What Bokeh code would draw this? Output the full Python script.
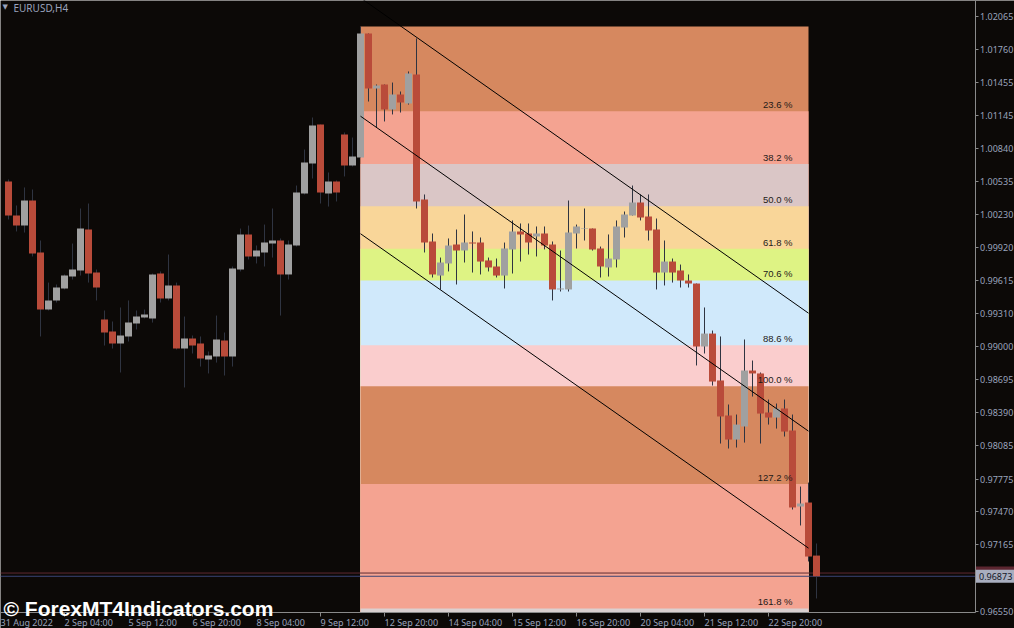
from bokeh.plotting import figure
from bokeh.models import Range1d, FixedTicker, PrintfTickFormatter, Label
from bokeh.embed import file_html
from bokeh.resources import INLINE
from bokeh.core.properties import value

# ---------------- data (EURUSD, H4) ----------------
opens = [1.00534, 1.00219, 1.00126, 1.00358, 0.99876, 0.99347, 0.99431, 0.99542, 0.99653, 0.99709,
         1.00089, 0.99690, 0.99254, 0.99143, 0.99032, 0.99097, 0.99217, 0.99273, 0.99264, 0.99681,
         0.99449, 0.99570, 0.98985, 0.99078, 0.99032, 0.98883, 0.98911, 0.99060, 0.98911, 0.99718,
         1.00043, 0.99839, 0.99876, 0.99959, 0.99987, 0.99672, 0.99941, 1.00423, 1.00701, 1.01063,
         1.00423, 1.00534, 1.00970, 1.00683, 1.00757, 1.01907, 1.01397, 1.01434, 1.01202, 1.01341,
         1.01258, 1.01527, 1.00367, 0.99978, 0.99662, 0.99774, 0.99950, 0.99894, 0.99968, 0.99968,
         0.99802, 0.99746, 0.99662, 0.99904, 1.00071, 1.00052, 1.00024, 1.00052, 0.99950, 0.99533,
         0.99533, 1.00052, 1.00094, 1.00098, 0.99913, 0.99737, 0.99811, 1.00108, 1.00219, 1.00339,
         1.00210, 1.00089, 0.99690, 0.99792, 0.99709, 0.99616, 0.99588, 0.99004, 0.99124, 0.98689,
         0.98364, 0.98141, 0.98262, 0.98781, 0.98754, 0.98392, 0.98345, 0.98429, 0.98225, 0.97520,
         0.97557, 0.97065]
highs = [1.00553, 1.00312, 1.00479, 1.00460, 0.99987, 0.99597, 0.99579, 0.99672, 0.99959, 1.00284,
         1.00330, 0.99718, 0.99338, 0.99236, 0.99366, 0.99431, 0.99338, 0.99347, 0.99681, 0.99700,
         0.99857, 0.99597, 0.99282, 0.99106, 0.99097, 0.98958, 0.99291, 0.99134, 0.99746, 1.00098,
         1.00126, 0.99941, 1.00135, 1.00284, 1.00006, 0.99987, 1.00497, 1.00831, 1.01128, 1.01063,
         1.00618, 1.00544, 1.00989, 1.00942, 1.01972, 1.01907, 1.01434, 1.01434, 1.01452, 1.01369,
         1.01555, 1.01861, 1.00414, 1.00052, 0.99829, 1.00006, 1.00089, 1.00228, 1.00071, 1.00015,
         0.99829, 0.99820, 0.99968, 1.00173, 1.00145, 1.00145, 1.00117, 1.00117, 0.99978, 0.99894,
         1.00358, 1.00135, 1.00284, 1.00098, 0.99931, 1.00043, 1.00173, 1.00256, 1.00497, 1.00414,
         1.00414, 1.00191, 0.99987, 0.99820, 0.99764, 0.99672, 0.99588, 0.99366, 0.99152, 0.99097,
         0.98466, 0.98373, 0.99069, 0.98874, 0.98763, 0.98512, 0.98475, 0.98512, 0.98373, 0.97705,
         0.97742, 0.97177]
lows = [1.00182, 1.00071, 1.00061, 0.99839, 0.99097, 0.99338, 0.99412, 0.99533, 0.99625, 0.99662,
        0.99597, 0.99431, 0.99013, 0.98985, 0.98763, 0.99050, 0.99162, 0.99264, 0.99226, 0.99412,
        0.99431, 0.98976, 0.98624, 0.98939, 0.98818, 0.98754, 0.98855, 0.98735, 0.98818, 0.99700,
        0.99811, 0.99774, 0.99746, 0.99829, 0.99291, 0.99625, 0.99931, 1.00414, 1.00562, 1.00330,
        1.00302, 1.00349, 1.00581, 1.00673, 1.00757, 1.01276, 1.01035, 1.01091, 1.01156, 1.01174,
        1.01248, 1.00284, 0.99876, 0.99644, 0.99533, 0.99700, 0.99579, 0.99783, 0.99690, 0.99672,
        0.99700, 0.99644, 0.99542, 0.99681, 0.99792, 0.99857, 0.99839, 0.99904, 0.99431, 0.99514,
        0.99514, 0.99913, 0.99987, 0.99894, 0.99644, 0.99653, 0.99737, 1.00015, 1.00219, 1.00173,
        0.99987, 0.99533, 0.99570, 0.99597, 0.99551, 0.99551, 0.98828, 0.98939, 0.98642, 0.98104,
        0.98058, 0.98067, 0.98113, 0.98540, 0.98104, 0.98280, 0.98243, 0.98169, 0.97492, 0.97344,
        0.97010, 0.96667]
closes = [1.00219, 1.00126, 1.00358, 0.99866, 0.99347, 0.99431, 0.99551, 0.99662, 0.99718, 1.00098,
          0.99681, 0.99551, 0.99134, 0.99032, 0.99106, 0.99226, 0.99282, 0.99301, 0.99672, 0.99449,
          0.99570, 0.98985, 0.99078, 0.99013, 0.98893, 0.98920, 0.99069, 0.98911, 0.99727, 1.00043,
          0.99839, 0.99894, 0.99968, 0.99987, 0.99672, 0.99950, 1.00432, 1.00710, 1.01054, 1.00432,
          1.00534, 1.00432, 1.00683, 1.00766, 1.01907, 1.01397, 1.01425, 1.01202, 1.01341, 1.01267,
          1.01536, 1.00349, 0.99968, 0.99672, 0.99783, 0.99941, 0.99894, 0.99968, 0.99959, 0.99792,
          0.99737, 0.99662, 0.99913, 1.00071, 1.00043, 0.99968, 1.00052, 0.99941, 0.99533, 0.99542,
          1.00061, 1.00117, 1.00098, 0.99904, 0.99746, 0.99820, 1.00117, 1.00228, 1.00339, 1.00200,
          1.00080, 0.99690, 0.99792, 0.99690, 0.99616, 0.99588, 0.99004, 0.99124, 0.98679, 0.98355,
          0.98141, 0.98280, 0.98781, 0.98754, 0.98382, 0.98345, 0.98429, 0.98215, 0.97511, 0.97548,
          0.97056, 0.96873]

time_tick_bars = [-1, 7, 15, 23, 31, 39, 47, 55, 63, 71, 79, 87, 95]
time_tick_labels = ["31 Aug 2022", "2 Sep 04:00", "5 Sep 12:00", "6 Sep 20:00", "8 Sep 04:00",
                    "9 Sep 12:00", "12 Sep 20:00", "14 Sep 04:00", "15 Sep 12:00",
                    "16 Sep 20:00", "20 Sep 04:00", "21 Sep 12:00", "22 Sep 20:00"]

price_ticks = [1.02065, 1.01760, 1.01455, 1.01145, 1.00840, 1.00535, 1.00230, 0.99920,
               0.99615, 0.99310, 0.99000, 0.98695, 0.98390, 0.98085, 0.97775, 0.97470,
               0.97165, 0.96550]

fib_start_bar = 44
fib_end_bar = 100
fib_high = 1.01972
fib_low = 0.98636
fib_levels = [0.0, 23.6, 38.2, 50.0, 61.8, 70.6, 88.6, 100.0, 127.2, 161.8, 200.0]
fib_colors = ["#D6885F", "#F4A391", "#DAC6C6", "#F9D699", "#DEF384",
              "#D0E9FB", "#FACDCD", "#D6885F", "#F4A391", "#DAD0D0"]
fib_labels = ["23.6 %", "38.2 %", "50.0 %", "61.8 %", "70.6 %", "88.6 %",
              "100.0 %", "127.2 %", "161.8 %"]

channel_start = [1.02238, 1.01140, 1.00050]   # upper, middle, lower at fib_start_bar
channel_end = [0.99313, 0.98219, 0.97134]     # at fib_end_bar

bid_price = 0.96873
ask_price = 0.96903
symbol = "EURUSD,H4"
watermark = "\u00a9 ForexMT4Indicators.com"

# ---------------- layout / styling ----------------
BG = "#0C0907"
RED = "#B94B3A"
GRAY = "#A0A0A0"
WICK = "#2F3441"
AXIS_TEXT = "#9AA3BC"
AXIS_LINE = "#8A8A8A"
FONT = "Noto Sans"
W, H = 1014, 628
CHART_H = 612                 # height of the price pane in pixels
x_start, x_end = -1.0, 125.75  # 8 px per bar over the whole canvas
chart_right = 120.8125        # bar coordinate of the price scale
y_end = 1.02213
chart_bottom = 0.96537        # price at the time scale
y_start = y_end - (y_end - chart_bottom) * H / CHART_H

p = figure(width=W, height=H, output_backend="svg", toolbar_location=None,
           x_range=Range1d(x_start, x_end), y_range=Range1d(y_start, y_end),
           y_axis_location="right", x_axis_location="below",
           min_border_left=0, min_border_top=0, min_border_right=0, min_border_bottom=0)
p.background_fill_color = BG
p.border_fill_color = BG
p.outline_line_color = None
p.xgrid.visible = False
p.ygrid.visible = False

# Fibonacci bands (each drawn down to the pane bottom so that no seams show)
span = fib_high - fib_low
lvl_price = [max(fib_high - lv / 100.0 * span, chart_bottom) for lv in fib_levels]
nb = len(fib_colors)
p.quad(left=[fib_start_bar] * nb, right=[fib_end_bar] * nb,
       top=lvl_price[:-1], bottom=[lvl_price[-1]] * nb, fill_color=fib_colors, line_color=None)

# bid / ask lines
p.segment(x0=[x_start, x_start], x1=[chart_right, chart_right], y0=[ask_price, bid_price],
          y1=[ask_price, bid_price], line_color=["#5E2A32", "#3A4476"], line_width=1)

# candles
bars = list(range(len(opens)))
cols = [GRAY if c > o else RED for o, c in zip(opens, closes)]
p.segment(x0=bars, y0=highs, x1=bars, y1=lows, line_color=WICK, line_width=1)
p.vbar(x=bars, width=0.875, top=[max(o, c) for o, c in zip(opens, closes)],
       bottom=[min(o, c) for o, c in zip(opens, closes)], fill_color=cols, line_color=None)

# regression channel
p.segment(x0=[fib_start_bar] * 3, y0=channel_start, x1=[fib_end_bar] * 3, y1=channel_end,
          line_color="#000000", line_width=1)

# fib level labels
p.text(x=[fib_end_bar] * len(fib_labels), y=lvl_price[1:1 + len(fib_labels)], text=fib_labels,
       text_align="right", text_baseline="bottom", x_offset=-16, y_offset=-1,
       text_font=value("Liberation Sans"), text_font_size="9.5px", text_color="#1E1A18")

# price axis, pinned at the right edge of the pane
ya = p.yaxis[0]
ya.fixed_location = chart_right
ya.bounds = (chart_bottom, y_end)
ya.ticker = FixedTicker(ticks=price_ticks)
ya.formatter = PrintfTickFormatter(format="%.5f")
ya.major_tick_out = 3
ya.major_label_standoff = 2

# time axis, pinned at the bottom of the pane; labels start at their ticks
xa = p.xaxis[0]
xa.fixed_location = chart_bottom
xa.bounds = (x_start, chart_right)
xa.ticker = FixedTicker(ticks=time_tick_bars)
xa.major_label_overrides = {b: l for b, l in zip(time_tick_bars, time_tick_labels)}
xa.major_label_orientation = -1e-6
xa.major_tick_out = 4
xa.major_label_standoff = 6

for ax in (xa, ya):
    ax.minor_tick_line_color = None
    ax.major_tick_in = 0
    ax.axis_line_color = AXIS_LINE
    ax.major_tick_line_color = AXIS_LINE
    ax.major_label_text_font = FONT
    ax.major_label_text_font_size = "9px"
    ax.major_label_text_color = AXIS_TEXT

# current price labels on the price scale
p.add_layout(Label(x=chart_right, y=ask_price, x_offset=1, text="%.5f" % ask_price,
                   text_align="left", text_baseline="middle", text_font=FONT,
                   text_font_size="9px", text_color="#C0A8A8",
                   background_fill_color="#5C2630", padding=3))
p.add_layout(Label(x=chart_right, y=bid_price, x_offset=1, text="%.5f" % bid_price,
                   text_align="left", text_baseline="middle", text_font=FONT,
                   text_font_size="9px", text_color="#141828",
                   background_fill_color="#A9AEBF", padding=3))

# symbol caption
p.add_layout(Label(x=x_start, y=y_end, x_offset=2, y_offset=-2, text="\u25bc",
                   text_align="left", text_baseline="top", text_font="DejaVu Sans",
                   text_font_size="7px", text_color=AXIS_TEXT))
p.add_layout(Label(x=x_start, y=y_end, x_offset=13, y_offset=0, text=symbol,
                   text_align="left", text_baseline="top", text_font=FONT,
                   text_font_size="10px", text_color=AXIS_TEXT))

# watermark
p.add_layout(Label(x=x_start, y=chart_bottom, x_offset=3, y_offset=4, text=watermark,
                   text_align="left", text_baseline="alphabetic", text_font="Liberation Sans",
                   text_font_style="bold", text_font_size="21px", text_color="#FFFFFF"))

open("out.html", "w").write(file_html(p, INLINE))
